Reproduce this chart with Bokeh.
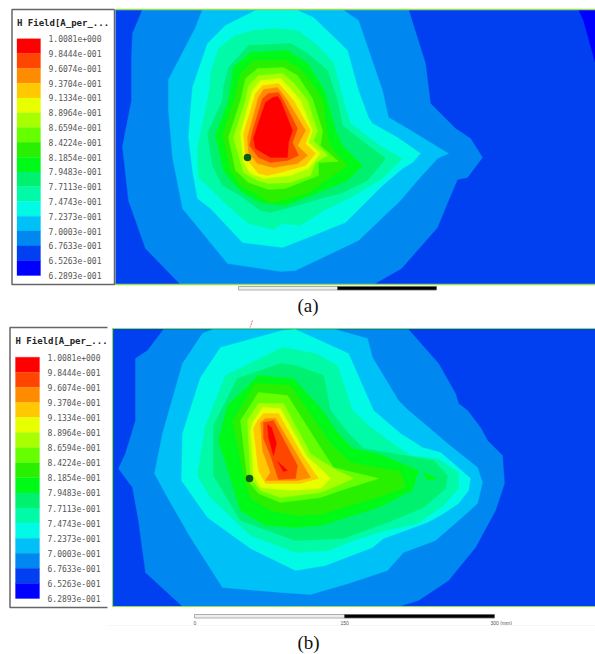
from bokeh.plotting import figure
from bokeh.models import Range1d
from bokeh.core.properties import value
from bokeh.embed import file_html
from bokeh.resources import INLINE

TICK_LABELS = ["1.0081e+000","9.8444e-001","9.6074e-001","9.3704e-001","9.1334e-001","8.8964e-001",
               "8.6594e-001","8.4224e-001","8.1854e-001","7.9483e-001","7.7113e-001","7.4743e-001",
               "7.2373e-001","7.0003e-001","6.7633e-001","6.5263e-001","6.2893e-001"]
BAND_COLORS = ["#FF0000","#FF4600","#FF8C00","#FFC800","#E8FF00","#A8FF00","#66FF00","#28F000",
               "#00FA18","#00F070","#00FAA8","#00FAE6","#00C0F8","#0088F0","#0040F0","#0000FF"]
TITLE = "H Field[A_per_..."

A_15 = [[(578,9),(583,20),(595,63),(595,9)]]
A_13 = [[(142,9),(132,33),(131,55),(131,100),(122,146),(128,200),(145,248),(180,284),(373,284),(401,268),(437,227),(448,200),(457,179),(467,177),(482,157),(470,138),(455,128),(430,103),(425,63),(408,9)]]
A_12 = [[(202,9),(195,27),(168,79),(168,110),(172,157),(182,208),(227,263),(280,271),(295,270),(358,240),(400,200),(417,180),(437,158),(448,153),(407,128),(388,117),(382,90),(358,20),(342,9)]]
A_11 = [[(257,9),(225,25),(207,43),(192,87),(190,110),(188,137),(192,170),(197,198),(210,208),(242,242),(282,247),(295,242),(345,222),(382,185),(402,168),(412,162),(420,153),(397,137),(372,123),(368,117),(358,90),(347,50),(337,40),(313,17),(295,9)]]
A_10 = [[(235,35),(253,30),(275,28),(297,30),(317,45),(333,62),(343,100),(350,123),(382,147),(402,158),(382,178),(350,197),(323,210),(300,225),(282,223),(273,229),(248,223),(227,205),(212,190),(198,177),(197,150),(200,133),(207,100),(210,82),(210,73),(218,48)]]
A_9 = [[(248,45),(290,43),(307,53),(327,70),(337,100),(342,125),(365,143),(385,158),(367,180),(340,193),(323,197),(307,202),(270,212),(260,210),(240,195),(222,185),(212,165),(207,133),(222,100),(223,87),(228,67)]]
A_8 = [[(250,52),(287,50),(307,63),(323,88),(327,100),(335,130),(342,145),(362,165),(347,180),(323,190),(285,205),(260,202),(242,192),(230,180),(223,170),(215,135),(228,100),(230,87),(233,67)]]
A_7 = [[(253,60),(285,60),(300,68),(317,90),(322,100),(328,140),(335,152),(347,165),(333,175),(307,193),(270,203),(258,195),(240,185),(230,170),(222,135),(233,100),(235,93),(240,73)]]
A_6 = [[(257,68),(283,67),(297,75),(312,98),(322,130),(320,145),(338,161),(318,162),(318,175),(285,188),(268,189),(248,182),(235,170),(228,137),(240,100),(245,78)]]
A_5 = [[(258,75),(282,73),(293,82),(307,100),(317,130),(313,140),(327,155),(315,162),(310,175),(290,182),(268,183),(257,180),(243,172),(233,137),(245,100),(248,85)]]
A_4 = [[(260,80),(280,78),(290,88),(300,100),(312,130),(308,142),(320,153),(308,168),(290,175),(263,178),(250,173),(243,162),(240,133),(249,100),(252,90)]]
A_3 = [[(262,85),(278,83),(287,93),(293,100),(310,130),(305,143),(315,153),(305,165),(280,172),(267,175),(258,173),(245,157),(243,133),(253,100),(255,93)]]
A_2 = [[(263,89),(277,87),(287,100),(305,130),(297,145),(307,155),(297,163),(273,167),(257,163),(248,152),(247,137),(257,100),(258,97)]]
A_1 = [[(268,93),(278,92),(283,100),(297,128),(292,142),(298,155),(287,160),(270,162),(258,157),(249,145),(253,127),(262,98)]]
A_0 = [[(272,97),(277,96),(280,100),(292,130),(288,142),(287,157),(270,157),(255,148),(253,138),(258,122),(265,102)]]

B_13 = [[(163,329),(147,350),(135,358),(135,420),(125,453),(118,468),(132,487),(138,520),(145,572),(182,606),(398,606),(418,600),(448,580),(475,547),(495,510),(504,483),(502,455),(487,440),(480,427),(467,410),(458,403),(455,393),(438,363),(408,329)]]
B_12 = [[(212,329),(202,333),(182,363),(162,433),(154,473),(167,497),(190,537),(222,587),(280,592),(310,594),(348,583),(387,570),(403,552),(435,540),(466,513),(477,503),(482,482),(477,467),(447,443),(420,420),(408,410),(398,400),(372,357),(367,338),(335,329)]]
B_11 = [[(282,330),(295,329),(315,338),(348,353),(373,410),(400,433),(422,447),(440,452),(453,463),(470,478),(468,490),(458,503),(443,513),(427,522),(383,538),(372,547),(325,565),(295,570),(250,548),(207,517),(181,480),(182,433),(200,377),(220,347)]]
B_10 = [[(282,347),(315,353),(337,365),(352,410),(368,425),(392,443),(410,455),(437,458),(458,472),(458,488),(443,505),(417,523),(385,530),(353,540),(328,550),(295,552),(250,535),(210,497),(197,475),(205,425),(225,375)]]
B_9 = [[(280,363),(295,365),(323,375),(330,410),(348,433),(363,448),(433,460),(447,475),(445,488),(423,507),(387,522),(342,538),(295,540),(240,520),(213,475),(213,425),(237,378)]]
B_8 = [[(258,375),(293,378),(322,410),(337,432),(352,448),(377,453),(418,470),(412,490),(378,507),(320,525),(295,527),(265,525),(240,510),(230,478),(218,440),(227,405)], [(423,472),(437,478),(427,480)]]
B_7 = [[(255,383),(290,385),(318,425),(330,443),(350,462),(400,471),(405,487),(377,497),(320,514),(295,515),(270,510),(250,498),(243,475),(232,420)]]
B_6 = [[(258,392),(287,395),(320,447),(333,467),(378,478),(340,490),(320,497),(280,502),(258,493),(247,480),(240,420)]]
B_5 = [[(258,403),(283,403),(310,453),(320,460),(337,470),(353,478),(337,485),(320,492),(280,497),(260,490),(250,478),(247,420)]]
B_4 = [[(262,407),(280,408),(307,457),(320,468),(330,478),(320,488),(290,490),(260,487),(253,475),(250,432),(252,422)]]
B_3 = [[(263,413),(257,420),(253,428),(258,470),(265,483),(300,483),(318,478),(302,455),(278,413)]]
B_2 = [[(265,418),(260,422),(262,450),(270,472),(265,480),(297,480),(310,477),(297,455),(275,418)]]
B_1 = [[(263,422),(273,420),(297,465),(295,478),(278,479),(270,455),(263,438)]]
B_0 = [[(267,424),(271,427),(276,443),(273,455),(268,437)], [(277,461),(287,470),(283,471)]]

A_BANDS = {15:A_15,13:A_13,12:A_12,11:A_11,10:A_10,9:A_9,8:A_8,7:A_7,6:A_6,5:A_5,4:A_4,3:A_3,2:A_2,1:A_1,0:A_0}
B_BANDS = {13:B_13,12:B_12,11:B_11,10:B_10,9:B_9,8:B_8,7:B_7,6:B_6,5:B_5,4:B_4,3:B_3,2:B_2,1:B_1,0:B_0}

p = figure(width=595, height=654, x_range=Range1d(0,595), y_range=Range1d(654,0),
           output_backend="svg", toolbar_location=None, min_border=0)
p.xaxis.visible = False; p.yaxis.visible = False; p.grid.visible = False
p.outline_line_color = None; p.background_fill_color = "#FFFFFF"; p.border_fill_color = "#FFFFFF"

def panel(x0, y0, x1, y1, bands):
    p.quad(left=[x0], right=[x1], top=[y0], bottom=[y1], fill_color=BAND_COLORS[14], line_color=None)
    for i, polys in bands.items():
        xs = [[pt[0] for pt in poly] for poly in polys]
        ys = [[pt[1] for pt in poly] for poly in polys]
        p.patches(xs, ys, fill_color=BAND_COLORS[i], line_color=BAND_COLORS[i], line_width=0.4)

def legend(bx0, by0, bx1, by1, sx0, sx1, sy0, sy1, lx, tx, ty, closed):
    p.quad(left=[bx0], right=[bx1], top=[by0], bottom=[by1], fill_color="#FFFFFF", line_color=None)
    cx = [bx1,bx0,bx0,bx1] if not closed else [bx1,bx0,bx0,bx1,bx1]
    cy = [by0,by0,by1,by1] if not closed else [by0,by0,by1,by1,by0]
    p.line(cx, cy, line_color="#666666", line_width=1.5)
    n = len(BAND_COLORS); h = (sy1-sy0)/n
    p.quad(left=[sx0]*n, right=[sx1]*n, top=[sy0+i*h for i in range(n)], bottom=[sy0+(i+1)*h for i in range(n)],
           fill_color=BAND_COLORS, line_color=BAND_COLORS, line_width=0.3)
    p.text(x=[lx]*17, y=[sy0+i*h for i in range(17)], text=TICK_LABELS, text_font=value("DejaVu Sans Mono"),
           text_font_size="8px", text_color="#555555", text_baseline="middle", text_align="left")
    p.text(x=[tx], y=[ty], text=[TITLE], text_font=value("DejaVu Sans Mono"), text_font_style="bold",
           text_font_size="9px", text_color="#222222", text_baseline="middle", text_align="left")

GREEN = "#96DC50"
panel(115,9,595,284,A_BANDS)
p.segment(x0=[115,115], y0=[9,284], x1=[595,595], y1=[9,284], line_color=GREEN, line_width=1.5)
legend(11.5,9,114,284,16.5,40,38.3,275,48,16.5,22,True)
p.scatter(x=[247],y=[157],size=7.5,fill_color="#0A5A14",line_color=None)

panel(112,328,595,606,B_BANDS)
p.segment(x0=[112,112,112], y0=[328,606,328], x1=[595,595,112], y1=[328,606,606], line_color=GREEN, line_width=1.2)
legend(9.5,327,107,607,15,39,356.7,598,47,15,340,False)
p.scatter(x=[249],y=[478],size=7.5,fill_color="#0A5A14",line_color=None)

def bar(x0,xm,x1,y0,y1):
    p.quad(left=[x0],right=[xm],top=[y0],bottom=[y1],fill_color="#EEEEEE",line_color="#999999",line_width=0.8)
    p.quad(left=[xm],right=[x1],top=[y0],bottom=[y1],fill_color="#000000",line_color="#666666",line_width=0.8)
bar(238,337,436,286,289.5)
bar(194,344,494,614,617.5)
p.text(x=[194,344,490],y=[622.5]*3,text=["0","150","300 (mm)"],text_font=value("Liberation Sans"),text_font_size="5px",
       text_color="#555555",text_align="left",text_baseline="middle",x_offset=[-1,-4,0])
p.segment(x0=[107],y0=[625],x1=[595],y1=[625],line_color="#F6F6F6",line_width=1)
p.line([252,249.5],[320,327],line_color="#E04040",line_width=0.8,line_dash="2 1")

p.text(x=[307.5,308],y=[305,642],text=["(a)","(b)"],text_font=value("Liberation Serif"),text_font_size="19px",
       text_color="#111111",text_align="center",text_baseline="middle")

open("out.html","w").write(file_html(p, INLINE))
